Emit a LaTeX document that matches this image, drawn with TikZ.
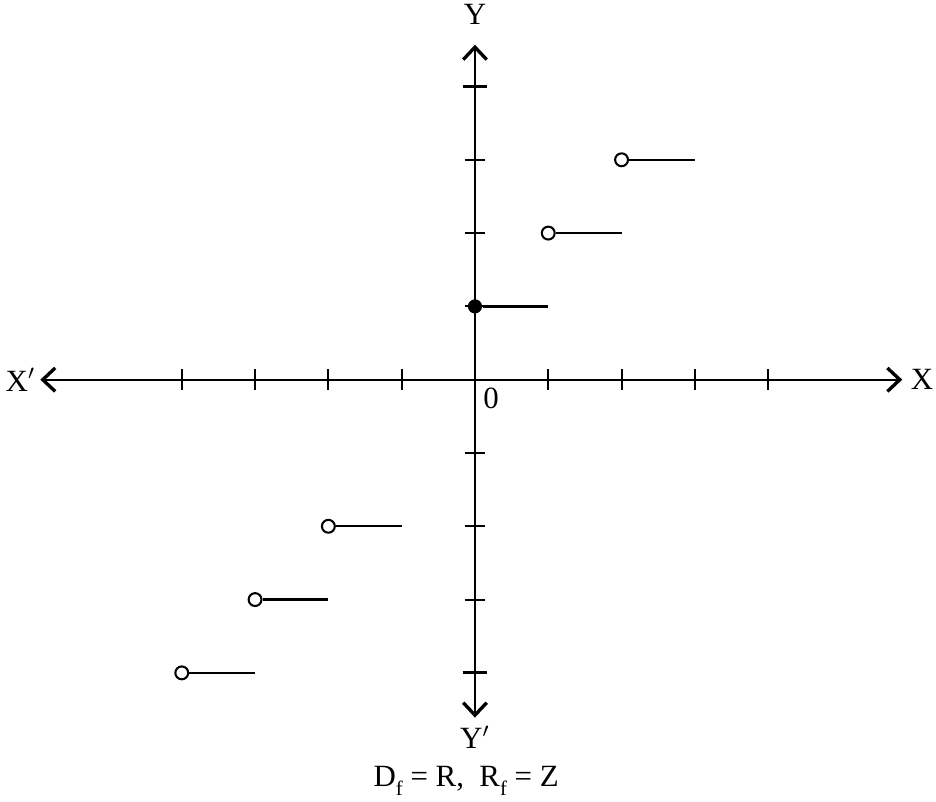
\documentclass[tikz,border=0pt]{standalone}
\usepackage{fontspec}
\setmainfont{Liberation Serif}
\usetikzlibrary{arrows.meta}

\tikzset{
  axis/.style={line width=0.8pt, -{Straight Barb[length=1.7mm,width=3.2mm,line width=1.3pt]}},
  opendot/.style={circle, draw, line width=0.8pt, fill=white, inner sep=0pt, minimum size=5pt},
  fulldot/.style={circle, fill, inner sep=0pt, minimum size=5.5pt},
  stepline/.style={line width=0.9pt},
  lbl/.style={font=\large, inner sep=1pt}
}

\begin{document}
\begin{tikzpicture}
\useasboundingbox (-6.48,-5.76) rectangle (6.29,5.18);

% axes
\coordinate (o) at (0,0);
\coordinate (xl) at (-5.93,0);
\coordinate (xr) at (5.83,0);
\coordinate (yt) at (0,4.57);
\coordinate (yb) at (0,-4.61);
\draw[axis] (o) -- (xr);
\draw[axis] (o) -- (xl);
\draw[axis] (o) -- (yt);
\draw[axis] (o) -- (yb);

\node[lbl] (X) at (6.1,0) {X};
\node[lbl] (Xp) at (-6.2,0) {X$^{\prime}$};
\node[lbl] (Y) at (0,4.98) {Y};
\node[lbl] (Yp) at (0,-4.88) {Y$^{\prime}$};
\node[lbl] (zero) at (0.22,-0.26) {0};

% ticks
\foreach \i in {-4,-3,-2,-1,1,2,3,4} {
  \draw[line width=0.8pt] (\i,-0.14) -- (\i,0.14);
  \draw[line width=0.8pt] (-0.14,\i) -- (0.14,\i);
}
\draw[line width=1.2pt] (-0.17,4) -- (0.17,4);
\draw[line width=1.2pt] (-0.17,-4) -- (0.17,-4);

% steps
\node[fulldot] (s1) at (0,1) {};
\coordinate (e1) at (1,1);
\draw[stepline] (s1) -- (e1);
\foreach \a/\b in {1/2,2/3,-2/-2,-3/-3,-4/-4} {
  \coordinate (e) at (\a+1,\b);
  \node[opendot] (s) at (\a,\b) {};
  \draw[stepline] (s) -- (e);
}

\node[font=\large, inner sep=1pt] (cap) at (-0.12,-5.47) {D\raisebox{-0.6ex}{\footnotesize f} = R, \ R\raisebox{-0.6ex}{\footnotesize f} = Z};
\end{tikzpicture}
\end{document}
